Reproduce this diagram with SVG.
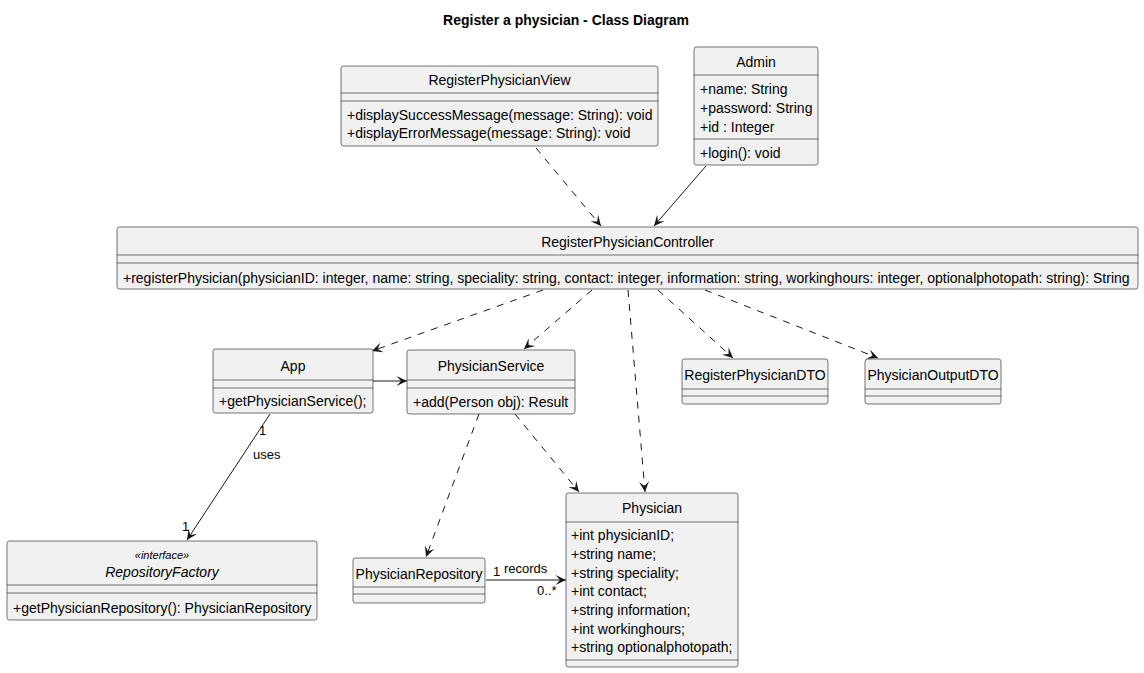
<svg xmlns="http://www.w3.org/2000/svg" width="1144" height="673" viewBox="0 0 1144 673">
  <style>
    .box { fill: #F1F1F1; stroke: #181818; stroke-width: 0.6; }
    .sep { stroke: #181818; stroke-width: 0.6; }
    .t { font-family: "Liberation Sans", Arial, sans-serif; font-size: 14px; fill: #000; }
    .c { text-anchor: middle; }
    .it { font-style: italic; }
    .st { font-size: 11px; }
    .lbl { font-size: 13px; }
    .title { font-weight: bold; font-size: 14px; }
    .edge { fill: none; stroke: #181818; stroke-width: 1; }
    .dash { stroke-dasharray: 7,7; }
  </style>
  <defs>
    <marker id="arrow" markerUnits="userSpaceOnUse" viewBox="-12 -6 13 12" refX="0" refY="0" markerWidth="13" markerHeight="12" orient="auto">
      <path d="M0,0 L-10.5,-5 L-6,0 L-10.5,5 Z" fill="#181818"/>
    </marker>
  </defs>

  <rect width="1144" height="673" fill="#FFFFFF"/>

  <text class="t c title" x="566" y="25">Register a physician - Class Diagram</text>

  <!-- connectors -->
  <g id="connectors">
    <line class="edge dash" x1="536" y1="148" x2="601" y2="226" marker-end="url(#arrow)"/>
    <line class="edge" x1="706" y1="166" x2="654" y2="226" marker-end="url(#arrow)"/>
    <line class="edge dash" x1="543" y1="290" x2="372" y2="351" marker-end="url(#arrow)"/>
    <line class="edge dash" x1="592" y1="290" x2="524" y2="349" marker-end="url(#arrow)"/>
    <line class="edge dash" x1="628" y1="290" x2="645" y2="492" marker-end="url(#arrow)"/>
    <line class="edge dash" x1="658" y1="290" x2="733" y2="358" marker-end="url(#arrow)"/>
    <line class="edge dash" x1="705" y1="290" x2="878" y2="358" marker-end="url(#arrow)"/>
    <line class="edge" x1="373" y1="381" x2="407" y2="381" marker-end="url(#arrow)"/>
    <line class="edge" x1="270" y1="414" x2="187" y2="540" marker-end="url(#arrow)"/>
    <line class="edge dash" x1="479" y1="414" x2="426" y2="557" marker-end="url(#arrow)"/>
    <line class="edge dash" x1="515" y1="414" x2="579" y2="492" marker-end="url(#arrow)"/>
    <line class="edge" x1="486" y1="580" x2="566" y2="580" marker-end="url(#arrow)"/>
    <text class="t lbl" x="259" y="435">1</text>
    <text class="t lbl" x="253" y="459">uses</text>
    <text class="t lbl" x="182" y="531">1</text>
    <text class="t lbl" x="493" y="576">1</text>
    <text class="t lbl" x="504" y="573">records</text>
    <text class="t lbl" x="537" y="595">0..*</text>
  </g>

  <g id="RegisterPhysicianView">
    <rect class="box" x="341" y="66" width="317" height="80" rx="2.5"/>
    <text class="t c" x="499.5" y="85">RegisterPhysicianView</text>
    <line class="sep" x1="341" y1="93" x2="658" y2="93"/>
    <line class="sep" x1="341" y1="101" x2="658" y2="101"/>
    <text class="t" x="347" y="120">+displaySuccessMessage(message: String): void</text>
    <text class="t" x="347" y="138">+displayErrorMessage(message: String): void</text>
  </g>

  <g id="Admin">
    <rect class="box" x="694" y="47" width="124" height="118" rx="2.5"/>
    <text class="t c" x="756" y="67">Admin</text>
    <line class="sep" x1="694" y1="75" x2="818" y2="75"/>
    <text class="t" x="700" y="94">+name: String</text>
    <text class="t" x="700" y="113">+password: String</text>
    <text class="t" x="700" y="132">+id : Integer</text>
    <line class="sep" x1="694" y1="139" x2="818" y2="139"/>
    <text class="t" x="700" y="158">+login(): void</text>
  </g>

  <g id="RegisterPhysicianController">
    <rect class="box" x="117" y="227" width="1021" height="62" rx="2.5"/>
    <text class="t c" x="627.5" y="247">RegisterPhysicianController</text>
    <line class="sep" x1="117" y1="255" x2="1138" y2="255"/>
    <line class="sep" x1="117" y1="263" x2="1138" y2="263"/>
    <text class="t" x="123" y="283">+registerPhysician(physicianID: integer, name: string, speciality: string, contact: integer, information: string, workinghours: integer, optionalphotopath: string): String</text>
  </g>

  <g id="App">
    <rect class="box" x="213" y="349" width="160" height="64" rx="2.5"/>
    <text class="t c" x="293" y="371">App</text>
    <line class="sep" x1="213" y1="380" x2="373" y2="380"/>
    <line class="sep" x1="213" y1="388" x2="373" y2="388"/>
    <text class="t" x="219" y="406">+getPhysicianService();</text>
  </g>

  <g id="PhysicianService">
    <rect class="box" x="407" y="350" width="168" height="64" rx="2.5"/>
    <text class="t c" x="491" y="371">PhysicianService</text>
    <line class="sep" x1="407" y1="380" x2="575" y2="380"/>
    <line class="sep" x1="407" y1="388" x2="575" y2="388"/>
    <text class="t" x="413" y="407">+add(Person obj): Result</text>
  </g>

  <g id="RegisterPhysicianDTO">
    <rect class="box" x="682" y="359" width="146" height="45" rx="2.5"/>
    <text class="t c" x="755" y="380">RegisterPhysicianDTO</text>
    <line class="sep" x1="682" y1="389" x2="828" y2="389"/>
    <line class="sep" x1="682" y1="396" x2="828" y2="396"/>
  </g>

  <g id="PhysicianOutputDTO">
    <rect class="box" x="865" y="359" width="136" height="45" rx="2.5"/>
    <text class="t c" x="933" y="380">PhysicianOutputDTO</text>
    <line class="sep" x1="865" y1="389" x2="1001" y2="389"/>
    <line class="sep" x1="865" y1="396" x2="1001" y2="396"/>
  </g>

  <g id="RepositoryFactory">
    <rect class="box" x="7" y="541" width="310" height="79" rx="2.5"/>
    <text class="t c it st" x="162" y="559">«interface»</text>
    <text class="t c it" x="162" y="577">RepositoryFactory</text>
    <line class="sep" x1="7" y1="585" x2="317" y2="585"/>
    <line class="sep" x1="7" y1="593" x2="317" y2="593"/>
    <text class="t" x="13" y="613">+getPhysicianRepository(): PhysicianRepository</text>
  </g>

  <g id="PhysicianRepository">
    <rect class="box" x="353" y="558" width="132" height="45" rx="2.5"/>
    <text class="t c" x="419" y="579">PhysicianRepository</text>
    <line class="sep" x1="353" y1="587" x2="485" y2="587"/>
    <line class="sep" x1="353" y1="594" x2="485" y2="594"/>
  </g>

  <g id="Physician">
    <rect class="box" x="566" y="493" width="172" height="174" rx="2.5"/>
    <text class="t c" x="652" y="513">Physician</text>
    <line class="sep" x1="566" y1="522" x2="738" y2="522"/>
    <text class="t" x="571" y="540">+int physicianID;</text>
    <text class="t" x="571" y="559">+string name;</text>
    <text class="t" x="571" y="578">+string speciality;</text>
    <text class="t" x="571" y="596">+int contact;</text>
    <text class="t" x="571" y="615">+string information;</text>
    <text class="t" x="571" y="634">+int workinghours;</text>
    <text class="t" x="571" y="652">+string optionalphotopath;</text>
    <line class="sep" x1="566" y1="660" x2="738" y2="660"/>
  </g>
</svg>
